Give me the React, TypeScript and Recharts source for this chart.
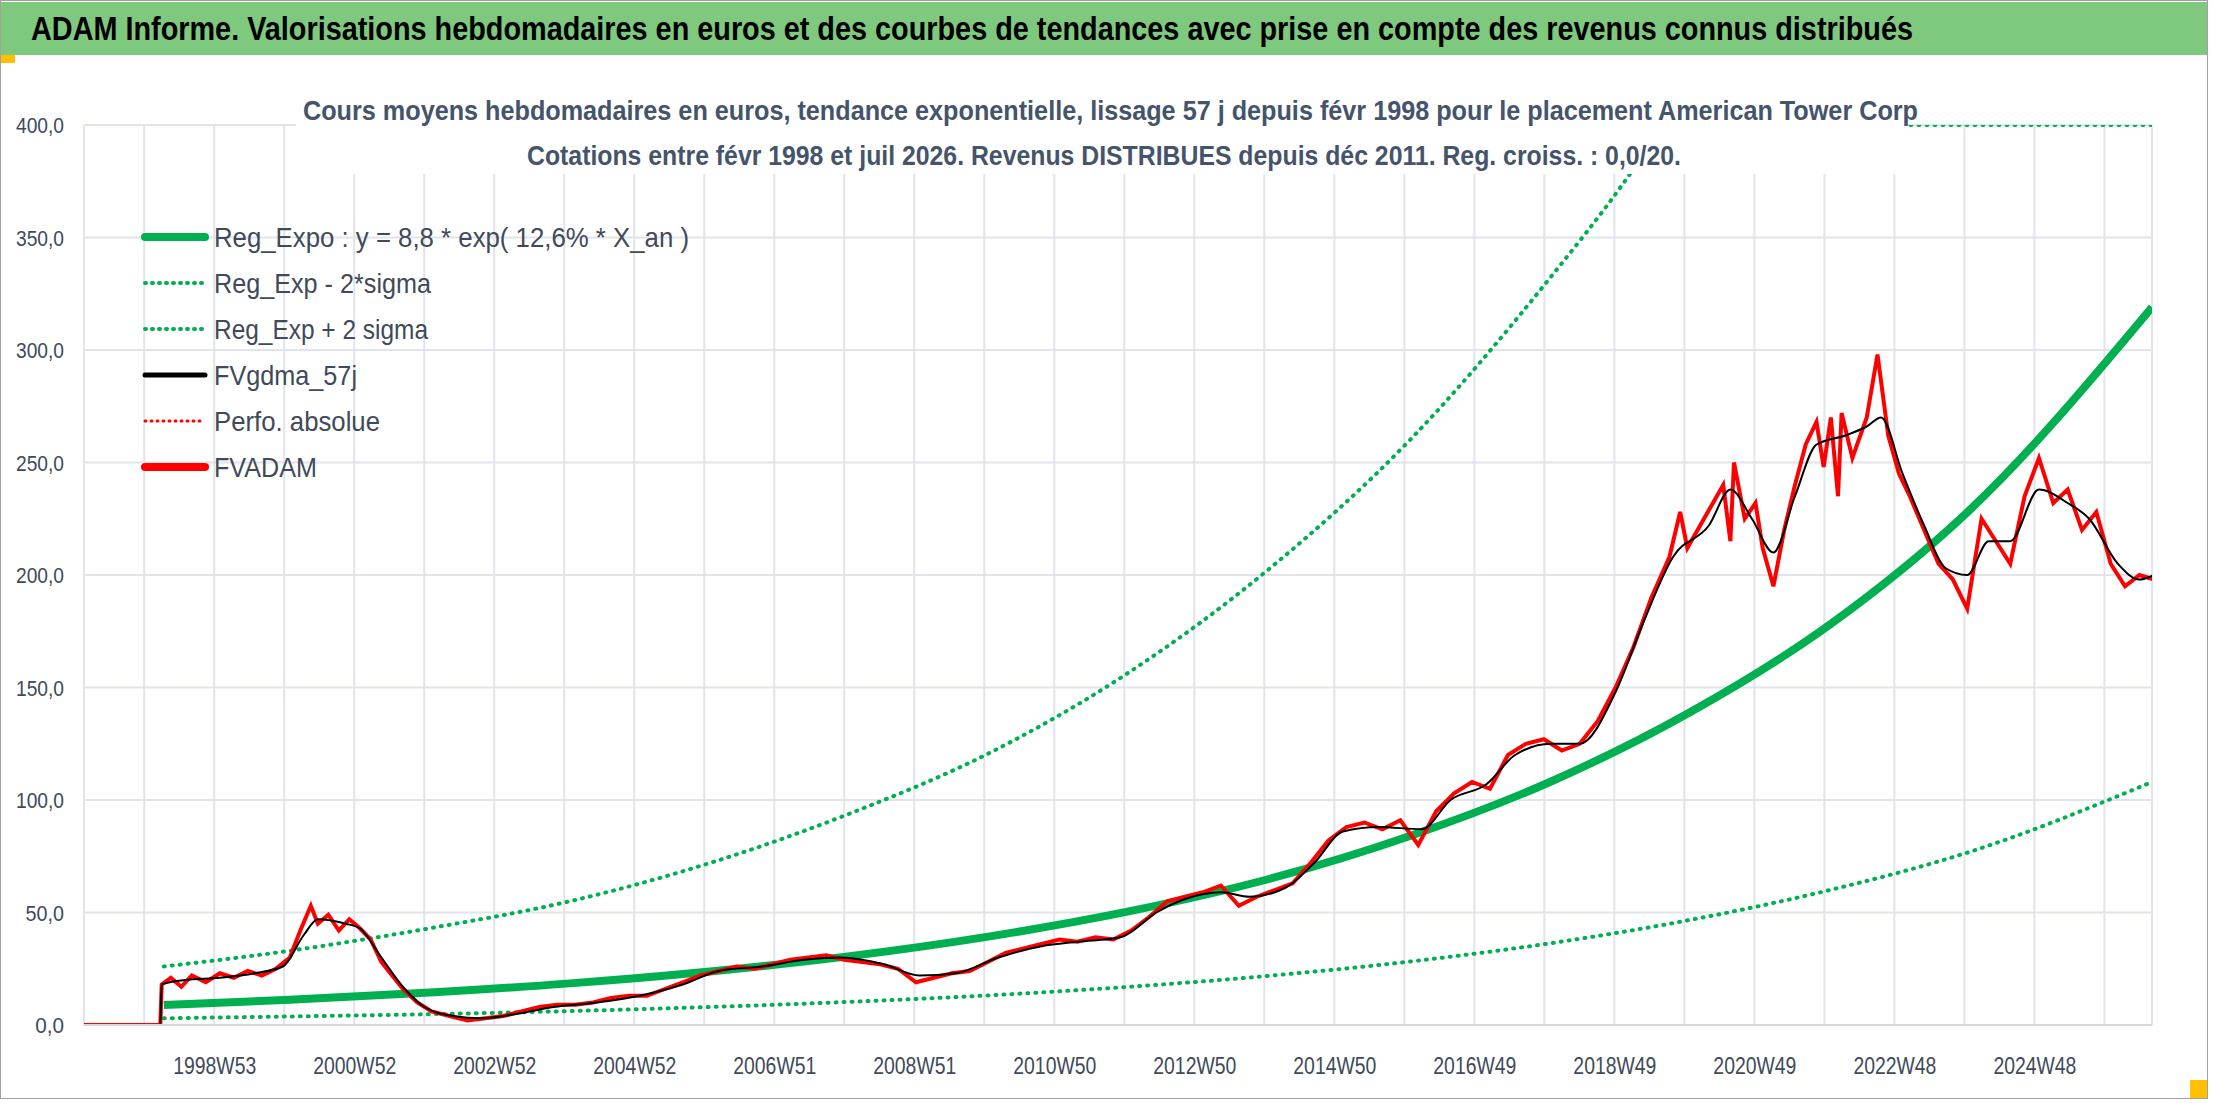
import { CartesianGrid, Line, LineChart, XAxis, YAxis } from 'recharts';

// week-label ticks (every 2 years) and yearly gridlines
const xLabels = ['1998W53', '2000W52', '2002W52', '2004W52', '2006W51', '2008W51', '2010W50',
  '2012W50', '2014W50', '2016W49', '2018W49', '2020W49', '2022W48', '2024W48'];
const yTicks = [0, 50, 100, 150, 200, 250, 300, 350, 400];

// [year, value]
const fvadam: [number, number][] = [
  [1997.06, 0], [1998.15, 0], [1998.17, 18], [1998.3, 21], [1998.45, 17], [1998.6, 22], [1998.8, 19],
  [1999.0, 23], [1999.2, 21], [1999.4, 24], [1999.6, 22], [1999.8, 25], [2000.0, 30], [2000.15, 42],
  [2000.3, 53], [2000.4, 45], [2000.55, 49], [2000.7, 42], [2000.85, 47], [2001.0, 43], [2001.15, 38],
  [2001.3, 28], [2001.45, 22], [2001.6, 16], [2001.8, 10], [2002.0, 6], [2002.25, 4], [2002.5, 2],
  [2002.75, 3], [2003.0, 4], [2003.25, 6], [2003.5, 8], [2003.75, 9], [2004.0, 9], [2004.25, 10],
  [2004.5, 12], [2004.75, 13], [2005.0, 13], [2005.25, 16], [2005.5, 19], [2005.75, 22], [2006.0, 24],
  [2006.25, 26], [2006.5, 25], [2006.75, 27], [2007.0, 29], [2007.25, 30], [2007.5, 31], [2007.75, 29],
  [2008.0, 28], [2008.25, 27], [2008.5, 25], [2008.75, 19], [2009.0, 21], [2009.25, 23], [2009.5, 24],
  [2009.75, 28], [2010.0, 32], [2010.25, 34], [2010.5, 36], [2010.75, 38], [2011.0, 37], [2011.25, 39],
  [2011.5, 38], [2011.75, 42], [2012.0, 48], [2012.25, 55], [2012.5, 57], [2012.75, 59], [2013.0, 62],
  [2013.25, 53], [2013.5, 57], [2013.75, 60], [2014.0, 63], [2014.25, 72], [2014.5, 82], [2014.75, 88],
  [2015.0, 90], [2015.25, 87], [2015.5, 91], [2015.75, 80], [2016.0, 95], [2016.25, 103], [2016.5, 108],
  [2016.75, 105], [2017.0, 120], [2017.25, 125], [2017.5, 127], [2017.75, 122], [2018.0, 125],
  [2018.25, 135], [2018.5, 150], [2018.75, 168], [2019.0, 190], [2019.25, 208], [2019.4, 228],
  [2019.5, 212], [2019.75, 226], [2020.0, 240], [2020.1, 215], [2020.15, 250], [2020.3, 225], [2020.45, 232],
  [2020.55, 212], [2020.7, 195], [2020.85, 220], [2021.0, 240], [2021.15, 258], [2021.3, 268],
  [2021.4, 248], [2021.5, 270], [2021.6, 235], [2021.65, 272], [2021.8, 252], [2022.0, 270], [2022.15, 298],
  [2022.3, 262], [2022.45, 245], [2022.6, 235], [2022.8, 220], [2023.0, 205], [2023.2, 198],
  [2023.4, 185], [2023.6, 225], [2023.8, 215], [2024.0, 205], [2024.2, 235], [2024.4, 252],
  [2024.6, 232], [2024.8, 238], [2025.0, 220], [2025.2, 228], [2025.4, 205], [2025.6, 195],
  [2025.8, 200], [2026.0, 198], [2026.2, 212], [2026.5, 200],
];

const fvgdma: [number, number][] = [
  [1997.06, 0], [1998.15, 0], [1998.17, 18], [1998.5, 20], [1999.0, 21], [1999.5, 23], [1999.9, 26],
  [2000.2, 40], [2000.4, 47], [2000.8, 45], [2001.0, 43], [2001.3, 30], [2001.6, 17], [2001.9, 8],
  [2002.3, 4], [2002.7, 3], [2003.2, 5], [2003.7, 8], [2004.3, 10], [2004.9, 13], [2005.5, 18],
  [2006.0, 24], [2006.6, 26], [2007.2, 29], [2007.7, 30], [2008.3, 27], [2008.8, 22], [2009.3, 23],
  [2009.9, 30], [2010.5, 35], [2011.0, 37], [2011.6, 39], [2012.1, 50], [2012.5, 56], [2013.0, 59],
  [2013.4, 57], [2013.9, 61], [2014.3, 72], [2014.7, 86], [2015.2, 88], [2015.8, 87], [2016.2, 100],
  [2016.7, 107], [2017.1, 120], [2017.6, 125], [2018.0, 125], [2018.5, 148], [2018.9, 180],
  [2019.3, 208], [2019.8, 222], [2020.1, 238], [2020.4, 225], [2020.7, 210], [2021.0, 235],
  [2021.3, 258], [2021.7, 262], [2022.0, 266], [2022.2, 270], [2022.5, 245], [2022.8, 222],
  [2023.1, 203], [2023.4, 200], [2023.7, 215], [2024.0, 215], [2024.4, 238], [2024.8, 232],
  [2025.1, 225], [2025.5, 205], [2025.8, 198], [2026.2, 202], [2026.5, 200],
];

const regExpo: [number, number][] = [
  [1998.2, 8.9], [2000, 11.2], [2002, 14.4], [2004, 18.5], [2006, 23.8], [2008, 30.6], [2010, 39.4],
  [2012, 50.6], [2014, 65], [2016, 84], [2018, 108], [2020, 139], [2022, 178], [2024, 229], [2026.6, 319],
];
const regLow: [number, number][] = [
  [1998.2, 3.0], [2000, 3.8], [2002, 4.8], [2004, 6.2], [2006, 8.0], [2008, 10.3], [2010, 13.2],
  [2012, 17.0], [2014, 21.9], [2016, 28.2], [2018, 36.3], [2020, 46.7], [2022, 60], [2024, 77], [2026.6, 108],
];
const regHigh: [number, number][] = [
  [1998.2, 26], [2000, 33], [2002, 43], [2004, 55], [2006, 72], [2008, 94], [2010, 121], [2012, 157],
  [2014, 203], [2016, 260], [2018, 332], [2019, 372], [2020, 418], [2021, 470],
];
// the +2 sigma curve as Excel clips it along the top of the plot
const regHighCap: [number, number][] = [[2023.15, 400], [2026.6, 400]];

// my readings of the price dates drift slightly to the left; this re-aligns them with the week grid
const readX = (t: number) => t + 0.025 * Math.max(0, t - 2001);
const toRows = (pts: [number, number][], fix = false) =>
  pts.map(([t, v]) => ({ t: fix ? readX(t) : t, v }));

const FONT = '"Liberation Sans", Arial, sans-serif';
const TXT = '#404a5a';
const labelTicks = xLabels.map((_, i) => 1998.92 + 2 * i);
const gridTicks = Array.from({ length: 29 }, (_, i) => 1997.92 + i);

const legendItems = [
  { name: 'Reg_Expo : y = 8,8 * exp( 12,6% *  X_an )', len: 475, color: '#00b050', w: 8, dash: '' },
  { name: 'Reg_Exp - 2*sigma', len: 217, color: '#00b050', w: 4, dash: '1 6' },
  { name: 'Reg_Exp + 2 sigma', len: 214, color: '#00b050', w: 4, dash: '1 6' },
  { name: 'FVgdma_57j', len: 143, color: '#000000', w: 5, dash: '' },
  { name: 'Perfo. absolue', len: 166, color: '#ff0000', w: 3, dash: '1 5' },
  { name: 'FVADAM', len: 103, color: '#ff0000', w: 8, dash: '' },
];

const dotted = { stroke: '#00b050', strokeWidth: 4, strokeDasharray: '1 7', strokeLinecap: 'round' as const };

export default function App() {
  return (
    <div style={{ position: 'absolute', left: 0, top: 0, width: 2216, height: 1106, background: '#fff', fontFamily: FONT, overflow: 'hidden' }}>
      <LineChart width={2216} height={1106} margin={{ top: 125, right: 64, bottom: 0, left: 0 }} style={{ position: 'absolute', left: 0, top: 0 }}>
        <CartesianGrid stroke="#e1e4ea" strokeWidth={2} />
        <XAxis
          dataKey="t"
          type="number"
          domain={[1997.06, 2026.6]}
          ticks={gridTicks}
          interval={0}
          allowDataOverflow
          height={81}
          axisLine={{ stroke: '#d5d9df', strokeWidth: 2 }}
          tickLine={false}
          tick={({ x, y, payload }: any) => {
            const i = labelTicks.findIndex((v) => Math.abs(v - payload.value) < 0.01);
            if (i < 0) return <g />;
            return (
              <text x={x - 41} y={y + 41} fontSize={23} fill={TXT} fontFamily={FONT} textLength={83} lengthAdjust="spacingAndGlyphs">
                {xLabels[i]}
              </text>
            );
          }}
        />
        <YAxis
          type="number"
          domain={[0, 400]}
          ticks={yTicks}
          allowDataOverflow
          width={84}
          axisLine={false}
          tickLine={false}
          tick={({ y, payload }: any) => {
            const s = payload.value.toFixed(1).replace('.', ',');
            const len = s.length * 9.6;
            return (
              <text x={64 - len} y={y + 8} fontSize={22} fill={TXT} fontFamily={FONT} textLength={len} lengthAdjust="spacingAndGlyphs">
                {s}
              </text>
            );
          }}
        />
        <Line data={toRows(regLow)} dataKey="v" type="monotone" {...dotted} dot={false} isAnimationActive={false} />
        <Line data={toRows(regHigh)} dataKey="v" type="monotone" {...dotted} dot={false} isAnimationActive={false} />
        <Line data={toRows(regHighCap)} dataKey="v" type="linear" {...dotted} dot={false} isAnimationActive={false} />
        <Line data={toRows(regExpo)} dataKey="v" type="monotone" stroke="#00b050" strokeWidth={8} dot={false} isAnimationActive={false} />
        <Line data={toRows(fvadam, true)} dataKey="v" type="linear" stroke="#ff0000" strokeWidth={4} dot={false} isAnimationActive={false} />
        <Line data={toRows(fvgdma, true)} dataKey="v" type="monotone" stroke="#000000" strokeWidth={2} dot={false} isAnimationActive={false} />
      </LineChart>
      <svg width={2216} height={1106} style={{ position: 'absolute', left: 0, top: 0 }}>
        <rect x={0} y={2} width={2208} height={53} fill="#7fc97f" />
        <rect x={0} y={55} width={15} height={8} fill="#ffc000" />
        <rect x={2190} y={1080} width={18} height={18} fill="#ffc000" />
        <rect x={0.5} y={0.5} width={2207} height={1098} fill="none" stroke="#a0a0a0" />
        <text x={31} y={40} fontSize={34} fontWeight="bold" fill="#000" fontFamily={FONT} textLength={1882} lengthAdjust="spacingAndGlyphs">
          ADAM Informe. Valorisations hebdomadaires en euros et des courbes de tendances avec prise en compte des revenus connus distribués
        </text>
        <rect x={296} y={86} width={1608} height={88} fill="#fff" />
        <text x={303} y={120} fontSize={27} fontWeight="bold" fill="#44546a" fontFamily={FONT} textLength={1615} lengthAdjust="spacingAndGlyphs">
          Cours moyens hebdomadaires en euros, tendance exponentielle, lissage 57 j depuis févr 1998 pour le placement American Tower Corp
        </text>
        <text x={527} y={165} fontSize={27} fontWeight="bold" fill="#44546a" fontFamily={FONT} textLength={1154} lengthAdjust="spacingAndGlyphs">
          Cotations entre févr 1998 et juil 2026. Revenus DISTRIBUES depuis déc 2011. Reg. croiss. : 0,0/20.
        </text>
        {legendItems.map((it, i) => (
          <g key={it.name}>
            <line x1={145} y1={237 + 46 * i} x2={205} y2={237 + 46 * i} stroke={it.color} strokeWidth={it.w} strokeDasharray={it.dash} strokeLinecap="round" />
            <text x={214} y={247 + 46 * i} fontSize={28} fill={TXT} fontFamily={FONT} textLength={it.len} lengthAdjust="spacingAndGlyphs">
              {it.name}
            </text>
          </g>
        ))}
      </svg>
    </div>
  );
}
